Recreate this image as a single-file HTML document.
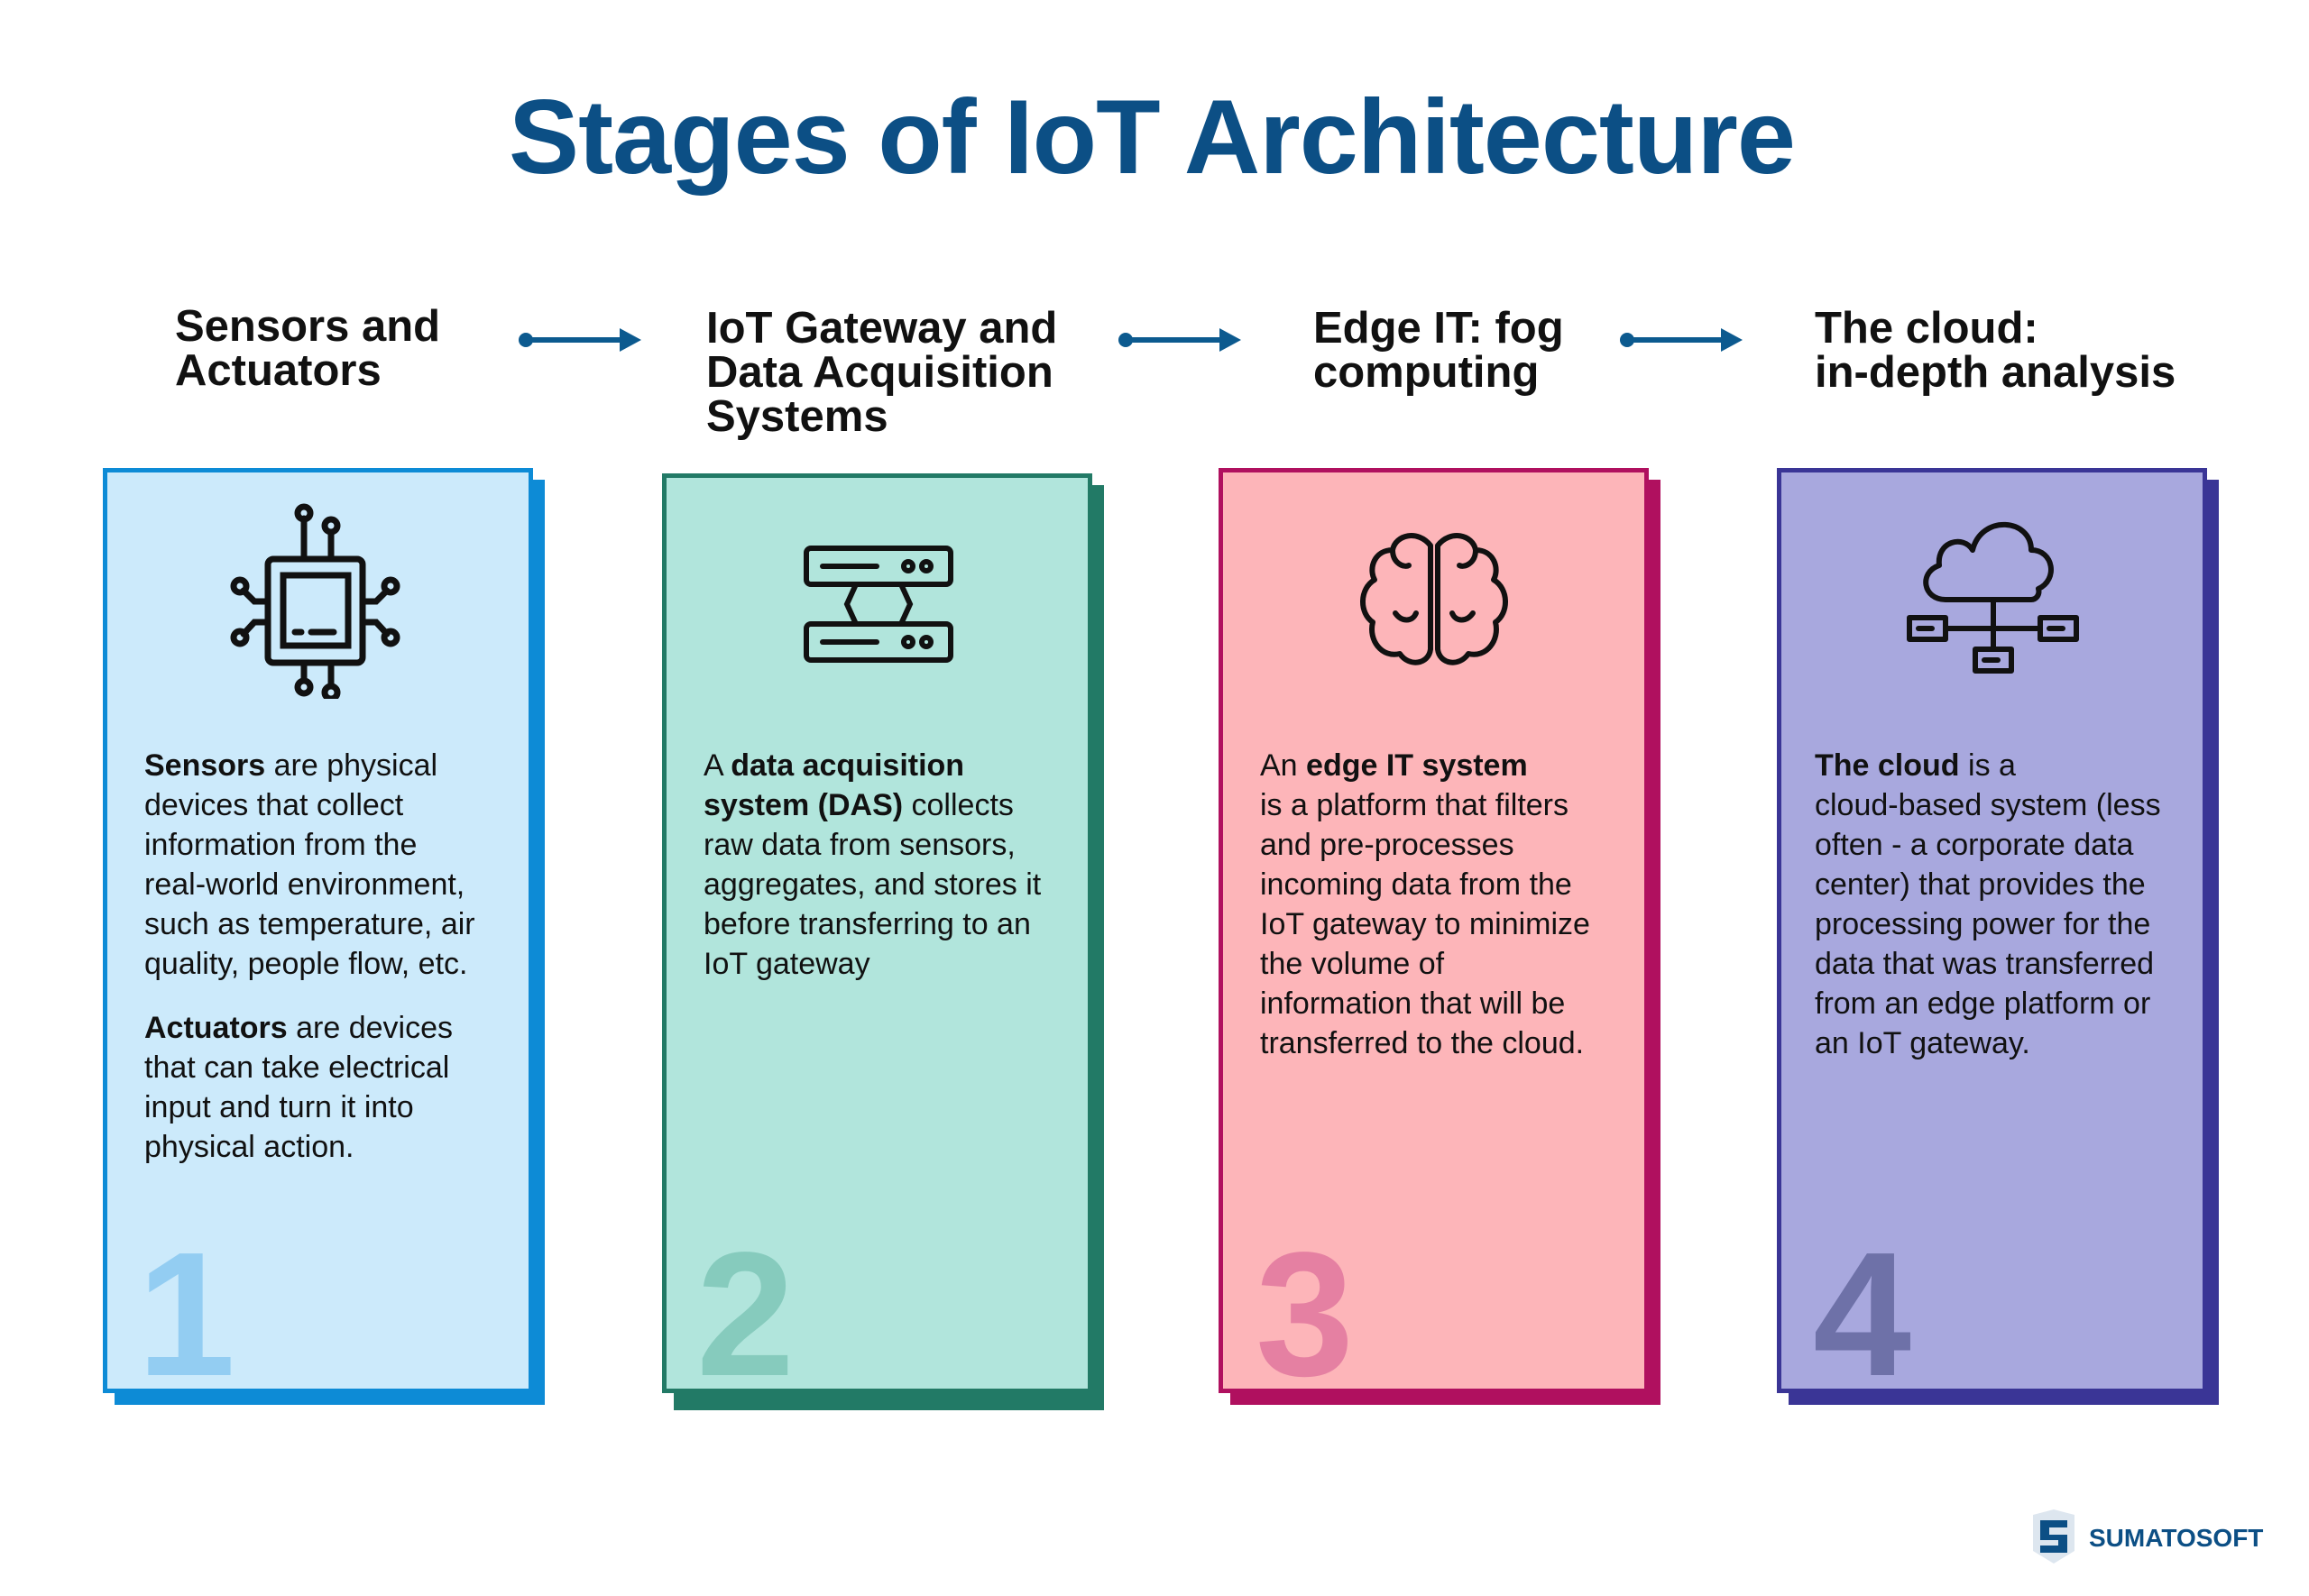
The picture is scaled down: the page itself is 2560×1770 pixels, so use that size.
<!DOCTYPE html>
<html><head><meta charset="utf-8"><style>
body{margin:0;width:2560px;height:1770px;background:#fff;position:relative;overflow:hidden;font-family:"Liberation Sans",sans-serif;color:#111}
.t{position:absolute;left:0;width:2554px;text-align:center;top:84px;font-size:117px;font-weight:bold;color:#0c4f85;letter-spacing:-1px}
.h{position:absolute;font-size:49px;font-weight:bold;line-height:49px;color:#111}
.card{position:absolute;width:477px;height:1026px;box-sizing:border-box;border:5px solid}
.sh{position:absolute;width:477px;height:1026px}
.b{position:absolute;font-size:34px;line-height:44px;white-space:nowrap}
.n{position:absolute;font-size:196px;font-weight:bold;line-height:1}
.ar{position:absolute}
svg.ic{position:absolute}
</style></head><body>
<div class="t">Stages of IoT Architecture</div>

<div class="h" style="left:194px;top:338px">Sensors and<br>Actuators</div>
<div class="h" style="left:783px;top:340px">IoT Gateway and<br>Data Acquisition<br>Systems</div>
<div class="h" style="left:1456px;top:340px">Edge IT: fog<br>computing</div>
<div class="h" style="left:2012px;top:340px">The cloud:<br>in-depth analysis</div>

<svg class="ar" style="left:571px;top:360px" width="150" height="36"><circle cx="12" cy="17" r="8" fill="#0c5a8f"/><line x1="12" y1="17" x2="125" y2="17" stroke="#0c5a8f" stroke-width="6"/><polygon points="116,4 140,17 116,30" fill="#0c5a8f"/></svg>
<svg class="ar" style="left:1236px;top:360px" width="150" height="36"><circle cx="12" cy="17" r="8" fill="#0c5a8f"/><line x1="12" y1="17" x2="125" y2="17" stroke="#0c5a8f" stroke-width="6"/><polygon points="116,4 140,17 116,30" fill="#0c5a8f"/></svg>
<svg class="ar" style="left:1792px;top:360px" width="150" height="36"><circle cx="12" cy="17" r="8" fill="#0c5a8f"/><line x1="12" y1="17" x2="125" y2="17" stroke="#0c5a8f" stroke-width="6"/><polygon points="116,4 140,17 116,30" fill="#0c5a8f"/></svg>

<!-- card 1 -->
<div class="sh" style="left:127px;top:532px;background:#0d8bd6"></div>
<div class="card" style="left:114px;top:519px;background:#cceafb;border-color:#0d8bd6"></div>
<svg class="ic" style="left:252px;top:555px" width="200" height="220" fill="none" stroke="#111" stroke-width="7" stroke-linecap="round">
<rect x="45" y="65" width="105" height="115" rx="6"/><rect x="62" y="83" width="72" height="78"/>
<line x1="75" y1="146" x2="82" y2="146"/><line x1="93" y1="146" x2="118" y2="146"/>
<line x1="85" y1="65" x2="85" y2="20"/><circle cx="85" cy="14" r="7"/>
<line x1="115" y1="65" x2="115" y2="35"/><circle cx="115" cy="28" r="7"/>
<line x1="85" y1="180" x2="85" y2="200"/><circle cx="85" cy="207" r="7"/>
<line x1="115" y1="180" x2="115" y2="206"/><circle cx="115" cy="213" r="7"/>
<path d="M45 112 H30 L18 100"/><circle cx="14" cy="95" r="7"/>
<path d="M45 135 H30 L18 148"/><circle cx="14" cy="152" r="7"/>
<path d="M150 112 H165 L177 100"/><circle cx="181" cy="95" r="7"/>
<path d="M150 135 H165 L177 148"/><circle cx="181" cy="152" r="7"/>
</svg>
<div class="b" style="left:160px;top:827px"><b>Sensors</b> are physical<br>devices that collect<br>information from the<br>real-world environment,<br>such as temperature, air<br>quality, people flow, etc.</div>
<div class="b" style="left:160px;top:1118px"><b>Actuators</b> are devices<br>that can take electrical<br>input and turn it into<br>physical action.</div>
<div class="n" style="left:152px;top:1360px;color:#93cdf2">1</div>

<!-- card 2 -->
<div class="sh" style="left:747px;top:538px;background:#227a66"></div>
<div class="card" style="left:734px;top:525px;background:#b1e5dc;border-color:#227a66;height:1020px"></div>
<svg class="ic" style="left:887px;top:600px" width="180" height="150" fill="none" stroke="#111" stroke-width="6" stroke-linecap="round">
<rect x="7" y="8" width="160" height="40" rx="5"/><rect x="7" y="92" width="160" height="40" rx="5"/>
<line x1="25" y1="28" x2="85" y2="28"/><line x1="25" y1="112" x2="85" y2="112"/>
<circle cx="120" cy="28" r="5"/><circle cx="140" cy="28" r="5"/><circle cx="120" cy="112" r="5"/><circle cx="140" cy="112" r="5"/>
<path d="M62 48 L52 70 L62 92 M112 48 L122 70 L112 92"/>
</svg>
<div class="b" style="left:780px;top:827px">A <b>data acquisition</b><br><b>system (DAS)</b> collects<br>raw data from sensors,<br>aggregates, and stores it<br>before transferring to an<br>IoT gateway</div>
<div class="n" style="left:772px;top:1360px;color:#86cbbd">2</div>

<!-- card 3 -->
<div class="sh" style="left:1364px;top:532px;background:#b0105f"></div>
<div class="card" style="left:1351px;top:519px;background:#fdb5b9;border-color:#b0105f"></div>
<svg class="ic" style="left:1502px;top:585px" width="175" height="160" fill="none" stroke="#111" stroke-width="6" stroke-linecap="round" stroke-linejoin="round">
<path d="M84 20 C70 2 45 8 42 25 C22 25 15 45 22 58 C5 68 5 95 20 105 C15 125 30 145 50 140 C60 155 82 152 84 135 Z"/>
<path d="M92 20 C106 2 131 8 134 25 C154 25 161 45 154 58 C171 68 171 95 156 105 C161 125 146 145 126 140 C116 155 94 152 92 135 Z"/>
<path d="M45 95 C52 105 64 105 68 95 M108 95 C112 105 124 105 131 95"/>
<path d="M42 25 C42 40 55 45 60 42 M134 25 C134 40 121 45 116 42"/>
</svg>
<div class="b" style="left:1397px;top:827px">An <b>edge IT system</b><br>is a platform that filters<br>and pre-processes<br>incoming data from the<br>IoT gateway to minimize<br>the volume of<br>information that will be<br>transferred to the cloud.</div>
<div class="n" style="left:1392px;top:1360px;color:#e580a2">3</div>

<!-- card 4 -->
<div class="sh" style="left:1983px;top:532px;background:#3a3596"></div>
<div class="card" style="left:1970px;top:519px;background:#a8a8de;border-color:#3a3596"></div>
<svg class="ic" style="left:2112px;top:565px" width="205" height="190" fill="none" stroke="#111" stroke-width="6" stroke-linecap="round" stroke-linejoin="round">
<path d="M45 100 C20 100 15 70 38 62 C35 35 65 28 75 45 C85 5 140 10 140 45 C165 45 170 78 148 88 C150 95 145 100 140 100 Z"/>
<line x1="98" y1="100" x2="98" y2="152"/><path d="M45 132 H150"/><line x1="98" y1="132" x2="98" y2="155"/>
<rect x="5" y="120" width="40" height="24"/><rect x="150" y="120" width="40" height="24"/><rect x="78" y="155" width="40" height="24"/>
<line x1="15" y1="132" x2="30" y2="132"/><line x1="160" y1="132" x2="175" y2="132"/><line x1="88" y1="167" x2="103" y2="167"/>
</svg>
<div class="b" style="left:2012px;top:827px"><b>The cloud</b> is a<br>cloud-based system (less<br>often - a corporate data<br>center) that provides the<br>processing power for the<br>data that was transferred<br>from an edge platform or<br>an IoT gateway.</div>
<div class="n" style="left:2010px;top:1360px;color:#6e71a8">4</div>

<!-- logo -->
<svg style="position:absolute;left:2250px;top:1672px" width="55" height="65"><path d="M4 8 L27 2 L50 8 L50 48 L27 62 L4 48 Z" fill="#dde6ef"/><path d="M12 14 H42 V22 H22 V30 H42 V50 H12 V42 H32 V36 H12 Z" fill="#0c4f85"/></svg>
<div style="position:absolute;left:2316px;top:1690px;font-size:28px;font-weight:bold;color:#0c4f85">SUMATOSOFT</div>
</body></html>
